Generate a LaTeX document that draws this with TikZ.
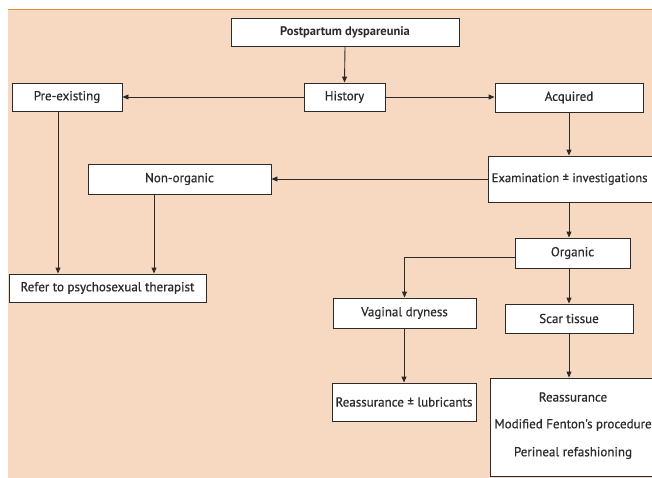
\documentclass[tikz,border=0pt]{standalone}
\usepackage{fontspec}
\setmainfont{PT Sans}
\newfontfamily\semi{PT Sans}[FakeBold=0.6]
\usetikzlibrary{arrows.meta}
\definecolor{peach}{HTML}{F6D9C0}
\definecolor{rule}{HTML}{E8893E}
\definecolor{ink}{HTML}{2B2B2B}
\tikzset{
  txt/.style={font=\fontsize{13}{15}\selectfont\semi, text=ink},
  box/.style={draw=ink, fill=white, line width=0.9pt, inner sep=0pt, txt},
  conn/.style={draw=ink, line width=0.9pt, -{Triangle[length=6pt,width=5pt]}},
}
\begin{document}
\begin{tikzpicture}[x=1pt,y=-1pt]
\useasboundingbox (0,0) rectangle (652,477);
\begin{scope}
\clip (0,0) rectangle (652,477);
\fill[peach] (8,9.5) rectangle (660,480);
\draw[rule, line width=1pt] (8,9.5) -- (660,9.5);

\node[box, minimum width=228pt, minimum height=28pt, font=\fontsize{12.5}{15}\selectfont\bfseries] (title) at (345,32) {Postpartum dyspareunia};
\node[box, minimum width=81pt, minimum height=28pt] (hist) at (344.5,97) {History};
\node[box, minimum width=110pt, minimum height=28pt] (pre) at (67,97) {Pre-existing};
\node[box, minimum width=148pt, minimum height=29pt] (acq) at (569,97.5) {Acquired};
\node[box, minimum width=183pt, minimum height=30pt] (non) at (179.5,179) {Non-organic};
\node[box, minimum width=172pt, minimum height=46pt] (exam) at (574,179) {};
\node[txt, anchor=west, inner sep=0pt, font=\fontsize{12.6}{15}\selectfont\semi] (examt) at (491.5,179) {Examination ± investigations};
\node[box, minimum width=115pt, minimum height=30pt] (org) at (572.5,253) {Organic};
\node[box, minimum width=143pt, minimum height=30pt] (vag) at (404.5,313) {Vaginal dryness};
\node[box, minimum width=128pt, minimum height=29pt] (scar) at (569,318.5) {Scar tissue};
\node[box, minimum width=197pt, minimum height=28pt] (ref) at (107.5,288) {Refer to psychosexual therapist};
\node[box, minimum width=144pt, minimum height=38pt] (reas) at (404,402) {Reassurance ± lubricants};
\node[box, minimum width=166pt, minimum height=98pt] (big) at (573,427) {};
\node[txt, inner sep=0pt] (b1) at (573,397) {Reassurance};
\node[txt, inner sep=0pt] (b2) at (573,425) {Modified Fenton's procedure};
\node[txt, inner sep=0pt] (b3) at (573,453) {Perineal refashioning};

\draw[conn] (title.south) -- (hist.north);
\draw[conn] (hist.west) -- (pre.east);
\draw[conn] (hist.east) -- (hist.east -| acq.west);
\draw[conn] (acq.south) -- (acq.south |- exam.north);
\draw[conn] (exam.west |- non.east) -- (non.east);
\draw[conn] (acq.south |- exam.south) -- (acq.south |- org.north);
\coordinate (ol) at (org.west |- 0,257);
\draw[conn] (ol) -| (vag.north);
\draw[conn] (acq.south |- org.south) -- (acq.south |- scar.north);
\draw[conn] (vag.south -| reas.north) -- (reas.north);
\draw[conn] (scar.south) -- (scar.south |- big.north);
\coordinate (p1) at (58,0);
\coordinate (p2) at (154,0);
\draw[conn] (p1 |- pre.south) -- (p1 |- ref.north);
\draw[conn] (p2 |- non.south) -- (p2 |- ref.north);
\end{scope}
\end{tikzpicture}
\end{document}
